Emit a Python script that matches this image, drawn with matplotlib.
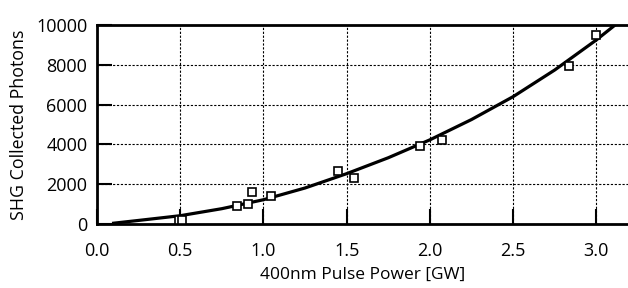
import matplotlib
matplotlib.use("Agg")
import matplotlib.pyplot as plt

# Measured data (squares)
power_gw = [0.495, 0.512, 0.843, 0.905, 0.929, 1.043, 1.446, 1.544, 1.94, 2.072, 2.833, 2.999]
photons = [200, 200, 920, 1005, 1608, 1407, 2680, 2296, 3935, 4236, 7955, 9513]

# Fit curve
fit_x = [0.1, 0.25, 0.5, 0.75, 1.0, 1.25, 1.5, 1.75, 2.0, 2.25, 2.5, 2.75, 3.0, 3.15]
fit_y = [40, 180, 417, 770, 1220, 1810, 2530, 3330, 4230, 5250, 6400, 7740, 9250, 10250]

x_ticks = [0.0, 0.5, 1.0, 1.5, 2.0, 2.5, 3.0]
x_ticklabels = ["0.0", "0.5", "1.0", "1.5", "2.0", "2.5", "3.0"]
y_ticks = [0, 2000, 4000, 6000, 8000, 10000]
y_ticklabels = ["0", "2000", "4000", "6000", "8000", "10000"]

plt.rcParams['font.family'] = ['Open Sans', 'DejaVu Sans']

fig = plt.figure(figsize=(6.28, 2.88), dpi=100)
ax = fig.add_axes([97/628, 1-224/288, 1-97/628, (224-25)/288])

ax.plot(fit_x, fit_y, color='black', lw=2.3, zorder=3, clip_on=True)
ax.plot(power_gw, photons, linestyle='none', marker='s', markersize=5.5,
        markerfacecolor='white', markeredgecolor='black', markeredgewidth=1.2, zorder=4)

ax.set_xlim(0, 3.19)
ax.set_ylim(0, 10000)
ax.set_xticks(x_ticks)
ax.set_xticklabels(x_ticklabels)
ax.set_yticks(y_ticks)
ax.set_yticklabels(y_ticklabels)

ax.grid(True, color='black', lw=0.8, linestyle=(0, (2, 1.5)))
ax.set_axisbelow(True)

ax.tick_params(axis='both', direction='in', length=11, width=1.5, labelsize=13, colors='black')
ax.tick_params(axis='x', pad=13)
ax.tick_params(axis='y', pad=7)
ax.tick_params(top=False, right=False)

for side in ['left', 'bottom', 'top']:
    ax.spines[side].set_linewidth(2)
ax.spines['right'].set_visible(False)

ax.set_xlabel("400nm Pulse Power [GW]", fontsize=12.5, labelpad=5)
ax.set_ylabel("SHG Collected Photons", fontsize=12.8, labelpad=6)

fig.savefig("out.png", dpi=100)
